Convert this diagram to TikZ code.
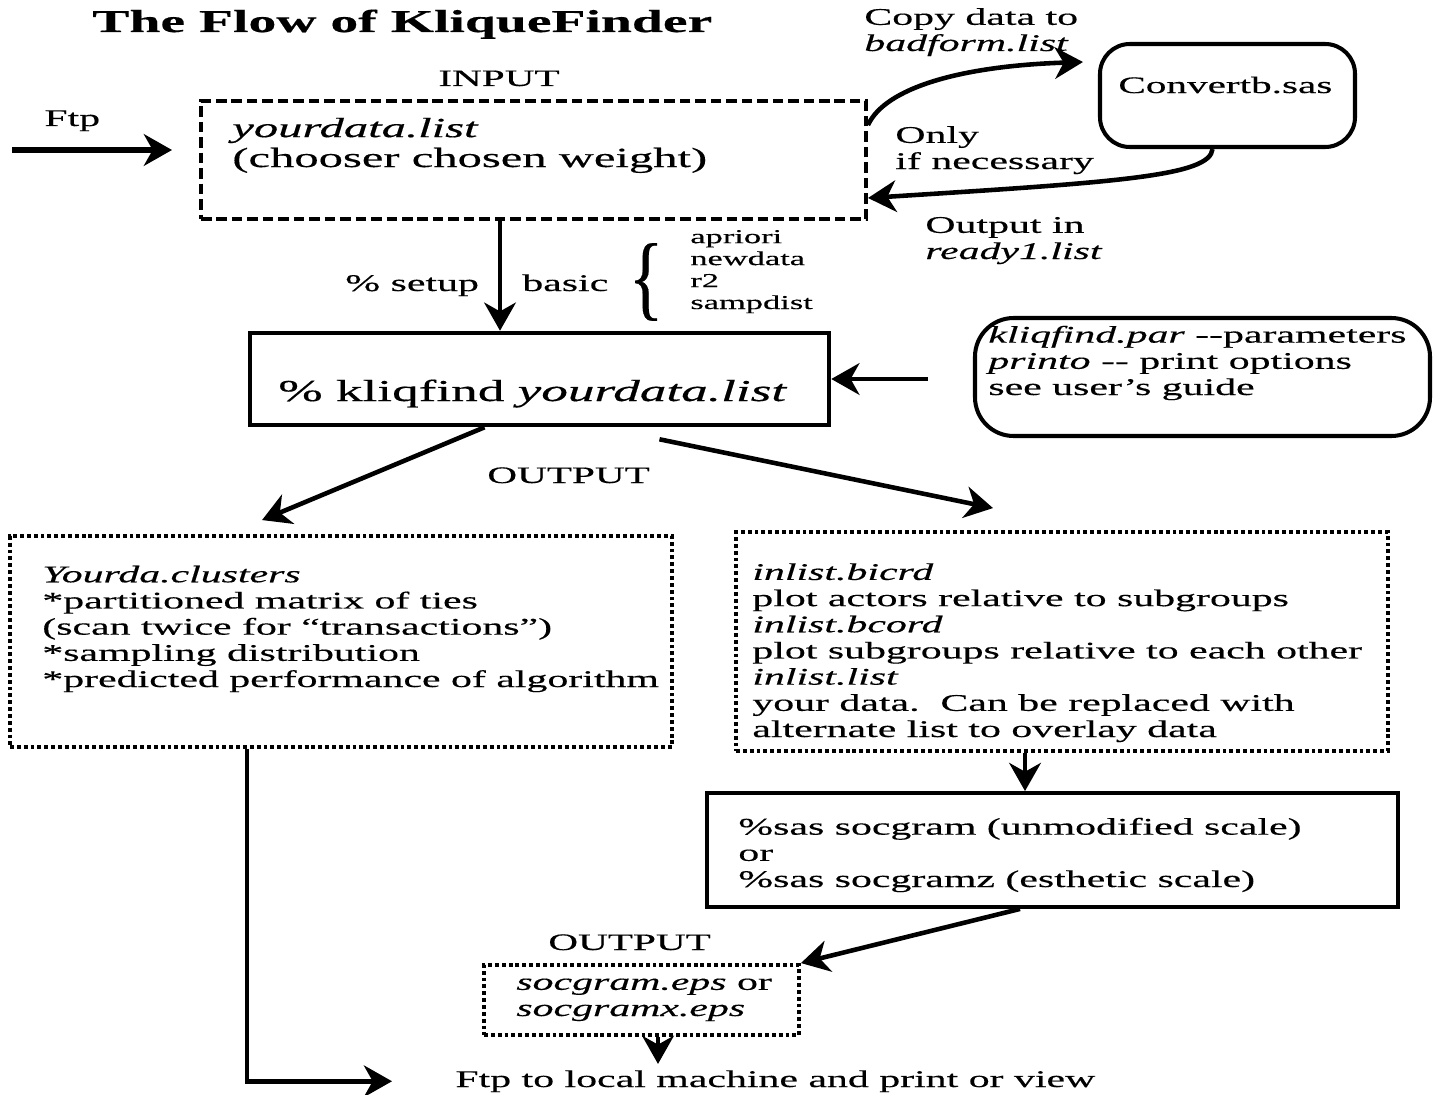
\documentclass[tikz,border=0pt]{standalone}
\usepackage{fontspec}
\setmainfont{Liberation Serif}[FakeStretch=1.75, FakeBold=0.4]
\usetikzlibrary{fit, arrows.meta, decorations.pathreplacing}

\newcommand{\bodysize}{\fontsize{13.6pt}{14.9pt}\selectfont}
\newcommand{\smallsize}{\fontsize{11.2pt}{12.5pt}\selectfont}
\newcommand{\bigsize}{\fontsize{17.3pt}{20pt}\selectfont}
\newcommand{\inputsize}{\fontsize{15.8pt}{17pt}\selectfont}
\newcommand{\titlesize}{\fontsize{18.1pt}{20pt}\selectfont\bfseries}

\tikzset{
  txt/.style={inner sep=0pt, anchor=base west, align=left, font=\bodysize},
  box/.style={draw, line width=2.3pt, inner sep=0pt},
  dashbox/.style={box, dash pattern=on 6pt off 2.8pt},
  dotbox/.style={box, line width=2.2pt, dash pattern=on 2.2pt off 1.7pt},
  roundbox/.style={box, rounded corners=#1},
  flow/.style={line width=2.6pt, -{Stealth[length=16pt, width=18pt, inset=5pt]}},
}

\begin{document}
\begin{tikzpicture}[x=0.02cm, y=-0.02cm]
  \useasboundingbox (0,0) rectangle (1433,1095);

  % Title and input file (multi-line texts sit on their last baseline)
  \node[txt, font=\titlesize] (title) at (92,32) {The Flow of KliqueFinder};
  \node[txt, font=\fontsize{13.4pt}{15pt}\selectfont] (inlbl) at (438,86) {INPUT};
  \node[txt] (ftplbl) at (44,126) {Ftp};
  \node[dashbox, fit={(201,101) (866,219)}] (input) {};
  \node[txt, font=\inputsize] (inputtxt) at (232,167) {\textit{yourdata.list}\\(chooser chosen weight)};
  \coordinate (ftpa) at (12,150);
  \coordinate (ftpb) at (172,150);
  \draw[flow, line width=3pt] (ftpa) -- (ftpb);

  % Conversion loop
  \node[roundbox=17pt, fit={(1100,44) (1355,147)}] (conv) {};
  \node[txt, font=\fontsize{13.4pt}{15pt}\selectfont] (convtxt) at (1118,93) {Convertb.sas};
  \node[txt] (copylbl) at (864,51) {Copy data to\\\textit{badform.list}};
  \node[txt] (onlylbl) at (895,169) {Only\\if necessary};
  \node[txt] (readylbl) at (925,259) {Output in\\\textit{ready1.list}};
  \draw[flow] ([yshift=0.7cm]input.east) .. controls (885,88) and (960,66) .. ([xshift=-0.3cm,yshift=0.67cm]conv.west);
  \draw[flow] ([xshift=-0.3cm]conv.south) .. controls (1210,176) and (1120,182) .. ([yshift=-0.76cm]input.east);

  % Running kliqfind
  \node[box, line width=2.6pt, fit={(250,333) (829,425)}] (kliq) {};
  \node[txt, font=\bigsize] (kliqtxt) at (278,401) {\% kliqfind \textit{yourdata.list}};
  \node[txt] (setup) at (345,291) {\% setup};
  \node[txt] (basic) at (522,291) {basic};
  \node[inner sep=0pt] (brace) at (646,282) {\resizebox{20pt}{37pt}{\{}};
  \node[txt, font=\smallsize] (opts) at (690,309) {apriori\\newdata\\r2\\sampdist};
  \draw[flow] ([xshift=-0.67cm]input.south) -- ([xshift=-0.67cm]input.south |- kliq.north);

  \node[roundbox=22pt, fit={(975,318) (1430,436)}] (params) {};
  \node[txt] (paramstxt) at (988,395) {\textit{kliqfind.par} -{}-parameters\\\textit{printo} -{}- print options\\see user's guide};
  \draw[flow] ([xshift=-0.9cm]params.west |- kliq.east) -- (kliq.east);

  % Output of kliqfind
  \node[txt, font=\fontsize{13.4pt}{15pt}\selectfont] (out1) at (487,483) {OUTPUT};
  \node[dotbox, fit={(10,536) (672,747)}] (clus) {};
  \node[txt] (clustxt) at (42,687) {\textit{Yourda.clusters}\\*partitioned matrix of ties\\(scan twice for ``transactions'')\\*sampling distribution\\*predicted performance of algorithm};
  \node[dotbox, fit={(736,532) (1388,751)}] (inlist) {};
  \node[txt] (inlisttxt) at (752,737) {\textit{inlist.bicrd}\\plot actors relative to subgroups\\\textit{inlist.bcord}\\plot subgroups relative to each other\\\textit{inlist.list}\\your data.\ \ Can be replaced with\\alternate list to overlay data};
  \draw[flow] ([xshift=-1.1cm]kliq.south) -- ([xshift=-1.58cm,yshift=0.28cm]clus.north);
  \draw[flow] ([xshift=2.4cm,yshift=-0.24cm]kliq.south) -- ([xshift=-1.38cm,yshift=0.44cm]inlist.north);

  % Plotting with SAS
  \node[box, line width=2.2pt, fit={(707,793) (1398,907)}] (soc) {};
  \node[txt] (soctxt) at (738,887) {\%sas socgram (unmodified scale)\\or\\\%sas socgramz (esthetic scale)};
  \draw[flow] ([xshift=-0.74cm]inlist.south) -- ([xshift=-0.74cm]inlist.south |- soc.north);

  \node[txt, font=\fontsize{13.4pt}{15pt}\selectfont] (out2) at (548,950) {OUTPUT};
  \node[dotbox, fit={(484,965) (799,1035)}] (eps) {};
  \node[txt] (epstxt) at (516,1016) {\textit{socgram.eps} or\\\textit{socgramx.eps}};
  \draw[flow] ([xshift=-0.65cm]soc.south) -- (eps.north east);

  % Final transfer
  \node[txt] (ftplocal) at (455,1087) {Ftp to local machine and print or view};
  \draw[flow] ([xshift=0.33cm]eps.south) -- ++(0,27);
  \draw[flow] ([xshift=-1.88cm]clus.south) |- ([xshift=-1.26cm]ftplocal.west);
\end{tikzpicture}
\end{document}
